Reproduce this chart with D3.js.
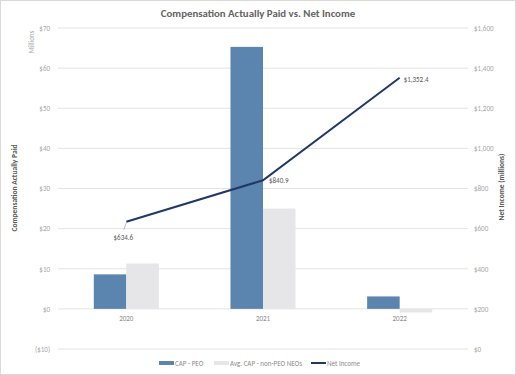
<!DOCTYPE html>
<html>
<head>
<meta charset="utf-8">
<script src="https://cdn.jsdelivr.net/npm/d3@7"></script>
<style>
  body { margin: 0; background: #fff; }
  svg text { font-family: Calibri, "Liberation Sans", "DejaVu Sans", sans-serif; }
</style>
</head>
<body>
<script>
// data
var years = ["2020", "2021", "2022"];
var capPeo = [8.6, 65.3, 3.1];
var capNeo = [11.3, 25.0, -0.9];
var netIncome = [634.6, 840.9, 1352.4];
var leftTicks = [-10, 0, 10, 20, 30, 40, 50, 60, 70];
var rightTicks = [0, 200, 400, 600, 800, 1000, 1200, 1400, 1600];

var W = 516, H = 375;
var margin = {top: 28, right: 48, bottom: 26, left: 58};
var width = W - margin.left - margin.right,
    height = H - margin.top - margin.bottom;

var svg = d3.select("body").append("svg")
    .attr("width", W)
    .attr("height", H);

// outer border
svg.append("rect")
    .attr("x", 0.5).attr("y", 0.5)
    .attr("width", W - 1).attr("height", H - 1)
    .attr("fill", "#fff")
    .attr("stroke", "#d9d9d9");

var g = svg.append("g")
    .attr("transform", "translate(" + margin.left + "," + margin.top + ")");

var x = d3.scaleBand().domain(years).range([0, width]);
var x1 = d3.scaleBand().domain(["peo", "neo"])
    .range([x.bandwidth() * 0.262, x.bandwidth() * 0.738]);
var y = d3.scaleLinear().domain([-10, 70]).range([height, 0]);
var y2 = d3.scaleLinear().domain([0, 1600]).range([height, 0]);

// gridlines
g.selectAll(".grid").data(leftTicks).enter().append("line")
    .attr("x1", 0).attr("x2", width)
    .attr("y1", function(d) { return y(d); })
    .attr("y2", function(d) { return y(d); })
    .attr("stroke", "#e3e3e3")
    .attr("stroke-width", 1);

// left axis
var yAxis = g.append("g")
    .call(d3.axisLeft(y).tickValues(leftTicks).tickSize(0).tickPadding(8)
      .tickFormat(function(d) { return d < 0 ? "($" + (-d) + ")" : "$" + d; }));
yAxis.select(".domain").remove();
yAxis.selectAll("text").attr("fill", "#a6a6a6").style("font-size", "7px");

// right axis
var yAxis2 = g.append("g")
    .attr("transform", "translate(" + width + ",0)")
    .call(d3.axisRight(y2).tickValues(rightTicks).tickSize(0).tickPadding(6)
      .tickFormat(function(d) { return "$" + d3.format(",")(d); }));
yAxis2.select(".domain").remove();
yAxis2.selectAll("text").attr("fill", "#a6a6a6").style("font-size", "7px");

// bars
var grp = g.selectAll(".yr").data(years).enter().append("g")
    .attr("transform", function(d) { return "translate(" + x(d) + ",0)"; });

grp.append("rect")
    .attr("x", x1("peo"))
    .attr("width", x1.bandwidth())
    .attr("y", function(d, i) { return y(Math.max(0, capPeo[i])); })
    .attr("height", function(d, i) { return Math.abs(y(capPeo[i]) - y(0)); })
    .attr("fill", "#5b84ae");

grp.append("rect")
    .attr("x", x1("neo"))
    .attr("width", x1.bandwidth())
    .attr("y", function(d, i) { return y(Math.max(0, capNeo[i])); })
    .attr("height", function(d, i) { return Math.abs(y(capNeo[i]) - y(0)); })
    .attr("fill", "#e6e6e8");

// x labels
g.selectAll(".xl").data(years).enter().append("text")
    .attr("x", function(d) { return x(d) + x.bandwidth() / 2; })
    .attr("y", y(0) + 12)
    .attr("text-anchor", "middle")
    .attr("fill", "#8c8c8c")
    .style("font-size", "7px")
    .text(function(d) { return d; });

// net income line
var line = d3.line()
    .x(function(d, i) { return x(years[i]) + x.bandwidth() / 2; })
    .y(function(d) { return y2(d); });

g.append("path")
    .datum(netIncome)
    .attr("d", line)
    .attr("fill", "none")
    .attr("stroke", "#1f3864")
    .attr("stroke-width", 2);

// data labels
function fmt(v) { return "$" + d3.format(",.1f")(v); }
var cx = function(i) { return x(years[i]) + x.bandwidth() / 2; };

g.append("line")
    .attr("x1", cx(0)).attr("y1", y2(netIncome[0]) + 1)
    .attr("x2", cx(0) - 2.5).attr("y2", y2(netIncome[0]) + 8)
    .attr("stroke", "#a6a6a6").attr("stroke-width", 0.7);
g.append("text")
    .attr("x", cx(0) - 3).attr("y", y2(netIncome[0]) + 18)
    .attr("text-anchor", "middle")
    .attr("fill", "#595959").style("font-size", "7px")
    .text(fmt(netIncome[0]));
g.append("text")
    .attr("x", cx(1) + 6).attr("y", y2(netIncome[1]) + 2.5)
    .attr("fill", "#595959").style("font-size", "7px")
    .text(fmt(netIncome[1]));
g.append("text")
    .attr("x", cx(2) + 4).attr("y", y2(netIncome[2]) + 4.5)
    .attr("fill", "#595959").style("font-size", "7px")
    .text(fmt(netIncome[2]));

// title
svg.append("text")
    .attr("x", W / 2).attr("y", 17)
    .attr("text-anchor", "middle")
    .attr("fill", "#636363")
    .style("font-size", "10.8px")
    .style("font-weight", "bold")
    .text("Compensation Actually Paid vs. Net Income");

// axis titles
svg.append("text")
    .attr("transform", "translate(34,42) rotate(-90)")
    .attr("text-anchor", "middle")
    .attr("fill", "#a6a6a6").style("font-size", "7px")
    .text("Millions");
svg.append("text")
    .attr("transform", "translate(17,188) rotate(-90)")
    .attr("text-anchor", "middle")
    .attr("fill", "#595959").style("font-size", "7.5px").style("font-weight", "bold")
    .text("Compensation Actually Paid");
svg.append("text")
    .attr("transform", "translate(504,187) rotate(-90)")
    .attr("text-anchor", "middle")
    .attr("fill", "#595959").style("font-size", "7.5px").style("font-weight", "bold")
    .text("Net Income (millions)");

// legend
var legendItems = [
  {label: "CAP - PEO", color: "#5b84ae", type: "bar", x: 159},
  {label: "Avg. CAP - non-PEO NEOs", color: "#e6e6e8", type: "bar", x: 214},
  {label: "Net Income", color: "#1f3864", type: "line", x: 311}
];
var lg = svg.selectAll(".lg").data(legendItems).enter().append("g")
    .attr("transform", function(d) { return "translate(" + d.x + ",363)"; });
lg.append("rect")
    .attr("x", 0)
    .attr("y", function(d) { return d.type == "bar" ? -2 : -1; })
    .attr("width", 15)
    .attr("height", function(d) { return d.type == "bar" ? 4 : 2; })
    .attr("fill", function(d) { return d.color; });
lg.append("text")
    .attr("x", 16).attr("y", 2.5)
    .attr("fill", "#8c8c8c").style("font-size", "7px")
    .text(function(d) { return d.label; });
</script>
</body>
</html>
